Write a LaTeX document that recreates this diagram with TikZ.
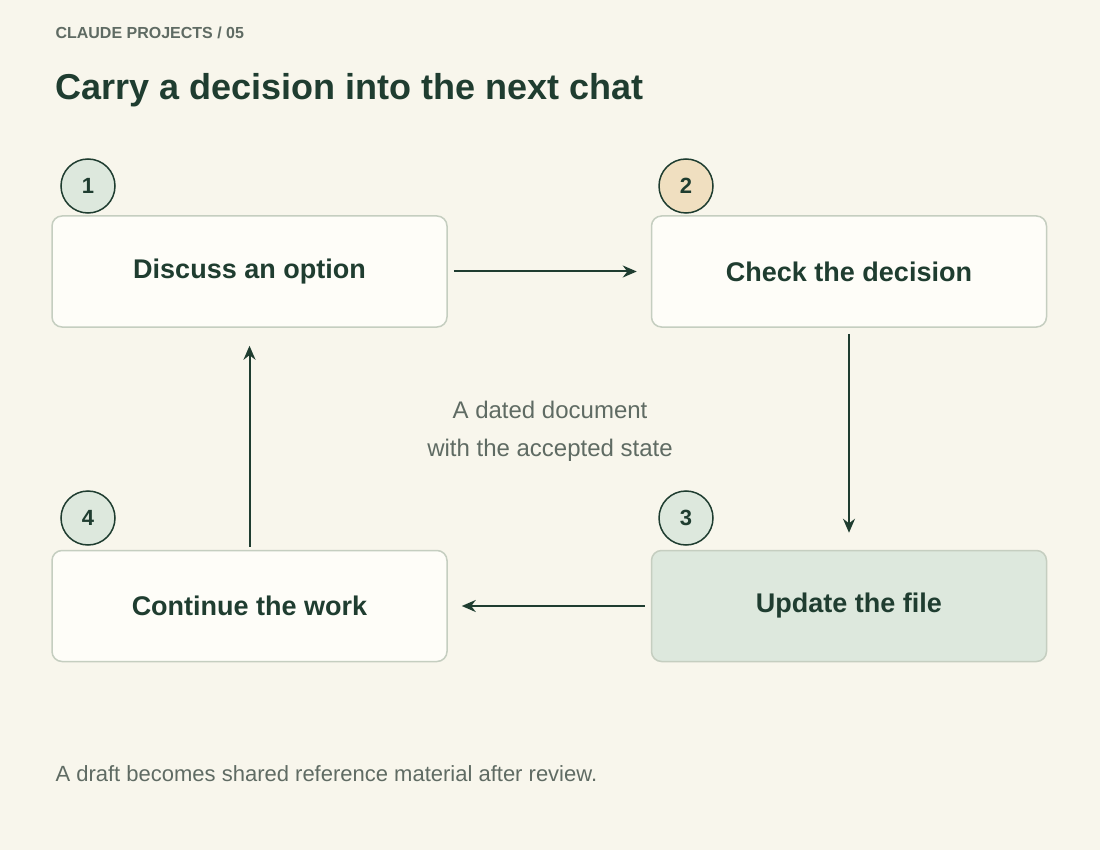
\documentclass[tikz,border=0pt]{standalone}
\usepackage{fontspec}
\setmainfont{Liberation Sans}
\usetikzlibrary{positioning,arrows.meta}
\definecolor{bgcol}{HTML}{F8F6EC}
\definecolor{ink}{HTML}{1F3D30}
\definecolor{boxfill}{HTML}{FEFDF8}
\definecolor{boxline}{HTML}{C5CEC0}
\definecolor{sagefill}{HTML}{DDE8DD}
\definecolor{sandfill}{HTML}{F0DFC0}
\definecolor{greytext}{HTML}{5F6B63}
\begin{document}
\begin{tikzpicture}[x=1pt,y=-1pt,
    stage/.style={draw=boxline,line width=1.5pt,fill=boxfill,rounded corners=10pt,
      minimum width=395pt,minimum height=111pt,font=\fontsize{27}{32}\selectfont\bfseries,text=ink},
    badge/.style={circle,draw=ink,line width=1.5pt,fill=sagefill,minimum size=54pt,inner sep=0pt,
      font=\fontsize{22}{26}\selectfont\bfseries,text=ink},
    flow/.style={draw=ink,line width=2pt,-{Stealth[length=14pt,width=12pt]}}]
  \fill[bgcol] (0,0) rectangle (1100,850);
  \node[anchor=base west,text=greytext,font=\fontsize{16}{20}\selectfont\bfseries] (kicker) at (52,39) {CLAUDE PROJECTS / 05};
  \node[anchor=base west,text=ink,font=\fontsize{36}{42}\selectfont\bfseries] (title) at (52,100) {Carry a decision into the next chat};
  % stages
  \node[stage] (discuss) at (249.5,271.5) {Discuss an option};
  \node[stage,right=203pt of discuss] (check) {Check the decision};
  \node[stage,fill=sagefill,below=222pt of check] (update) {Update the file};
  \node[stage,left=203pt of update] (continue) {Continue the work};
  % badges
  \node[badge] (n1) at (88,186) {1};
  \node[badge,fill=sandfill] (n2) at (686,186) {2};
  \node[badge] (n3) at (686,518) {3};
  \node[badge] (n4) at (88,518) {4};
  % arrows
  \draw[flow,shorten <=6pt,shorten >=14pt] (discuss.east) -- (check.west);
  \draw[flow,shorten <=6pt,shorten >=17pt] (check.south) -- (update.north);
  \draw[flow,shorten <=6pt,shorten >=14pt] (update.west) -- (continue.east);
  \draw[flow,shorten <=3pt,shorten >=18pt] (continue.north) -- (discuss.south);
  \node[align=center,text=greytext,font=\fontsize{24}{38}\selectfont] (note) at (550,431) {A dated document\\with the accepted state};
  \node[anchor=base west,text=greytext,font=\fontsize{22}{26}\selectfont] (footer) at (52,781) {A draft becomes shared reference material after review.};
\end{tikzpicture}
\end{document}
